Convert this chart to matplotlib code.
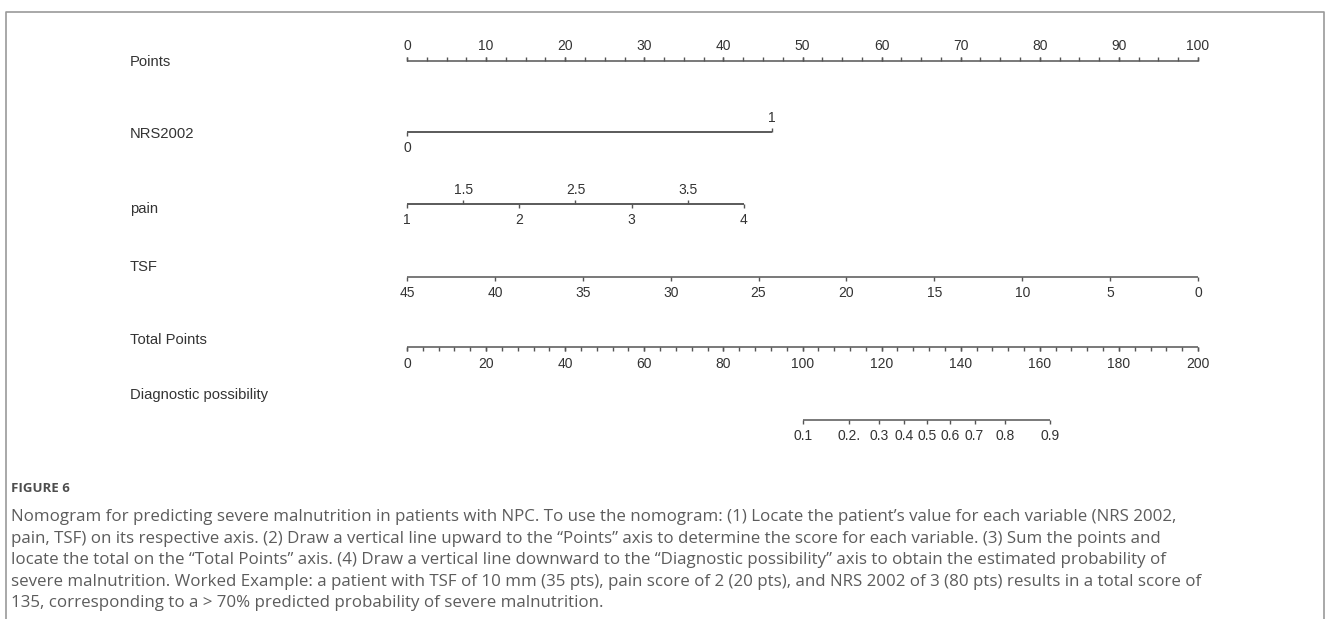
import numpy as np
import matplotlib
matplotlib.use("Agg")
import matplotlib.pyplot as plt

# nomogram scales (values -> points)
points_ticks = np.arange(0, 101, 10)
points_minor = np.arange(0, 100.01, 2.5)

nrs_values = [0, 1]
nrs_points = [0, 46.1]

pain_values = [1, 2, 3, 4]
pain_half = [1.5, 2.5, 3.5]
pain_range = [1, 4]
pain_points_range = [0, 42.6]

tsf_values = [45, 40, 35, 30, 25, 20, 15, 10, 5, 0]
tsf_range = [45, 0]
tsf_points_range = [0, 100]

total_ticks = np.arange(0, 201, 20)
total_minor = np.arange(0, 200.01, 4)

prob_ticks = [0.1, 0.2, 0.3, 0.4, 0.5, 0.6, 0.7, 0.8, 0.9]
prob_labels = ["0.1", "0.2.", "0.3", "0.4", "0.5", "0.6", "0.7", "0.8", "0.9"]
lp_intercept = -9.24
lp_slope = 0.0703

caption_lines = [
    "Nomogram for predicting severe malnutrition in patients with NPC. To use the nomogram: (1) Locate the patient\u2019s value for each variable (NRS 2002,",
    "pain, TSF) on its respective axis. (2) Draw a vertical line upward to the \u201cPoints\u201d axis to determine the score for each variable. (3) Sum the points and",
    "locate the total on the \u201cTotal Points\u201d axis. (4) Draw a vertical line downward to the \u201cDiagnostic possibility\u201d axis to obtain the estimated probability of",
    "severe malnutrition. Worked Example: a patient with TSF of 10 mm (35 pts), pain score of 2 (20 pts), and NRS 2002 of 3 (80 pts) results in a total score of",
    "135, corresponding to a > 70% predicted probability of severe malnutrition.",
]

plt.rcParams["font.family"] = ["Liberation Sans", "DejaVu Sans"]
LINE = "#555555"
TXT = "#333333"

fig = plt.figure(figsize=(13.3, 6.19), dpi=100)
ax = fig.add_axes([0, 0, 1, 1])
# x in "points" units: 0 -> 407 px, 100 -> 1198 px
px_per_pt = 7.91
ax.set_xlim(-407 / px_per_pt, (1330 - 407) / px_per_pt)
ax.set_ylim(619, 0)
ax.axis("off")

TICK = 4.0


def scale(y, xs, labels, up, xmin=None, xmax=None, minor=None, lab_off=15, size=10):
    lo = min(xs) if xmin is None else xmin
    hi = max(xs) if xmax is None else xmax
    ax.plot([lo, hi], [y, y], color=LINE, lw=1.1, solid_capstyle="butt")
    d = -TICK if up else TICK
    if minor is not None:
        ax.vlines(minor, y, y + d, color=LINE, lw=1.0)
    ax.vlines(xs, y, y + d, color=LINE, lw=1.0)
    ly = y - lab_off if up else y + lab_off
    for x, s in zip(xs, labels):
        ax.text(x, ly, s, ha="center", va="center", fontsize=size, color=TXT)


# Points
scale(61, points_ticks, [str(v) for v in points_ticks], up=True, minor=points_minor)

# NRS2002
scale(132, [nrs_points[1]], ["1"], up=True, xmin=0, xmax=nrs_points[1], lab_off=14)
scale(132, [nrs_points[0]], ["0"], up=False, xmin=0, xmax=nrs_points[1], lab_off=16)

# pain
pain_int_x = np.interp(pain_values, pain_range, pain_points_range)
pain_half_x = np.interp(pain_half, pain_range, pain_points_range)
scale(204, pain_half_x, [str(v) for v in pain_half], up=True,
      xmin=pain_points_range[0], xmax=pain_points_range[1], lab_off=14)
scale(204, pain_int_x, [str(v) for v in pain_values], up=False, lab_off=16)

# TSF (reversed scale)
tsf_x = np.interp(tsf_values, tsf_range[::-1], tsf_points_range[::-1])
scale(277, tsf_x, [str(v) for v in tsf_values], up=False, lab_off=16)

# Total Points: 0-200 on the same width as Points
scale(347, total_ticks / 2, [str(v) for v in total_ticks], up=False,
      minor=total_minor / 2, lab_off=17)

# Diagnostic possibility: total points from the logistic linear predictor
logit = np.log(np.array(prob_ticks) / (1 - np.array(prob_ticks)))
prob_total = (logit - lp_intercept) / lp_slope
scale(420, prob_total / 2, prob_labels, up=False, lab_off=16)

# variable names
names = ["Points", "NRS2002", "pain", "TSF", "Total Points", "Diagnostic possibility"]
name_y = [62, 134, 209, 267, 340, 395]
for s, y in zip(names, name_y):
    fig.text(130 / 1330, 1 - y / 619, s, ha="left", va="center", fontsize=10.6, color=TXT)

# frame around the figure panel
fig.add_artist(plt.Line2D([6 / 1330, 6 / 1330, 1324 / 1330, 1324 / 1330],
                          [0, 1 - 12 / 619, 1 - 12 / 619, 0],
                          color="#9a9a9a", lw=1.2))

# caption
fig.text(11 / 1330, 1 - 488 / 619, "FIGURE 6", ha="left", va="center",
         fontsize=9.5, fontweight="bold", color="#4d4d4d", family=["Open Sans", "DejaVu Sans"])
for i, line in enumerate(caption_lines):
    fig.text(11 / 1330, 1 - (517 + 21.6 * i) / 619, line, ha="left", va="center",
             fontsize=12.2, color="#5c5c5c", family=["Open Sans", "DejaVu Sans"])

fig.savefig("out.png", dpi=100, facecolor="white")
